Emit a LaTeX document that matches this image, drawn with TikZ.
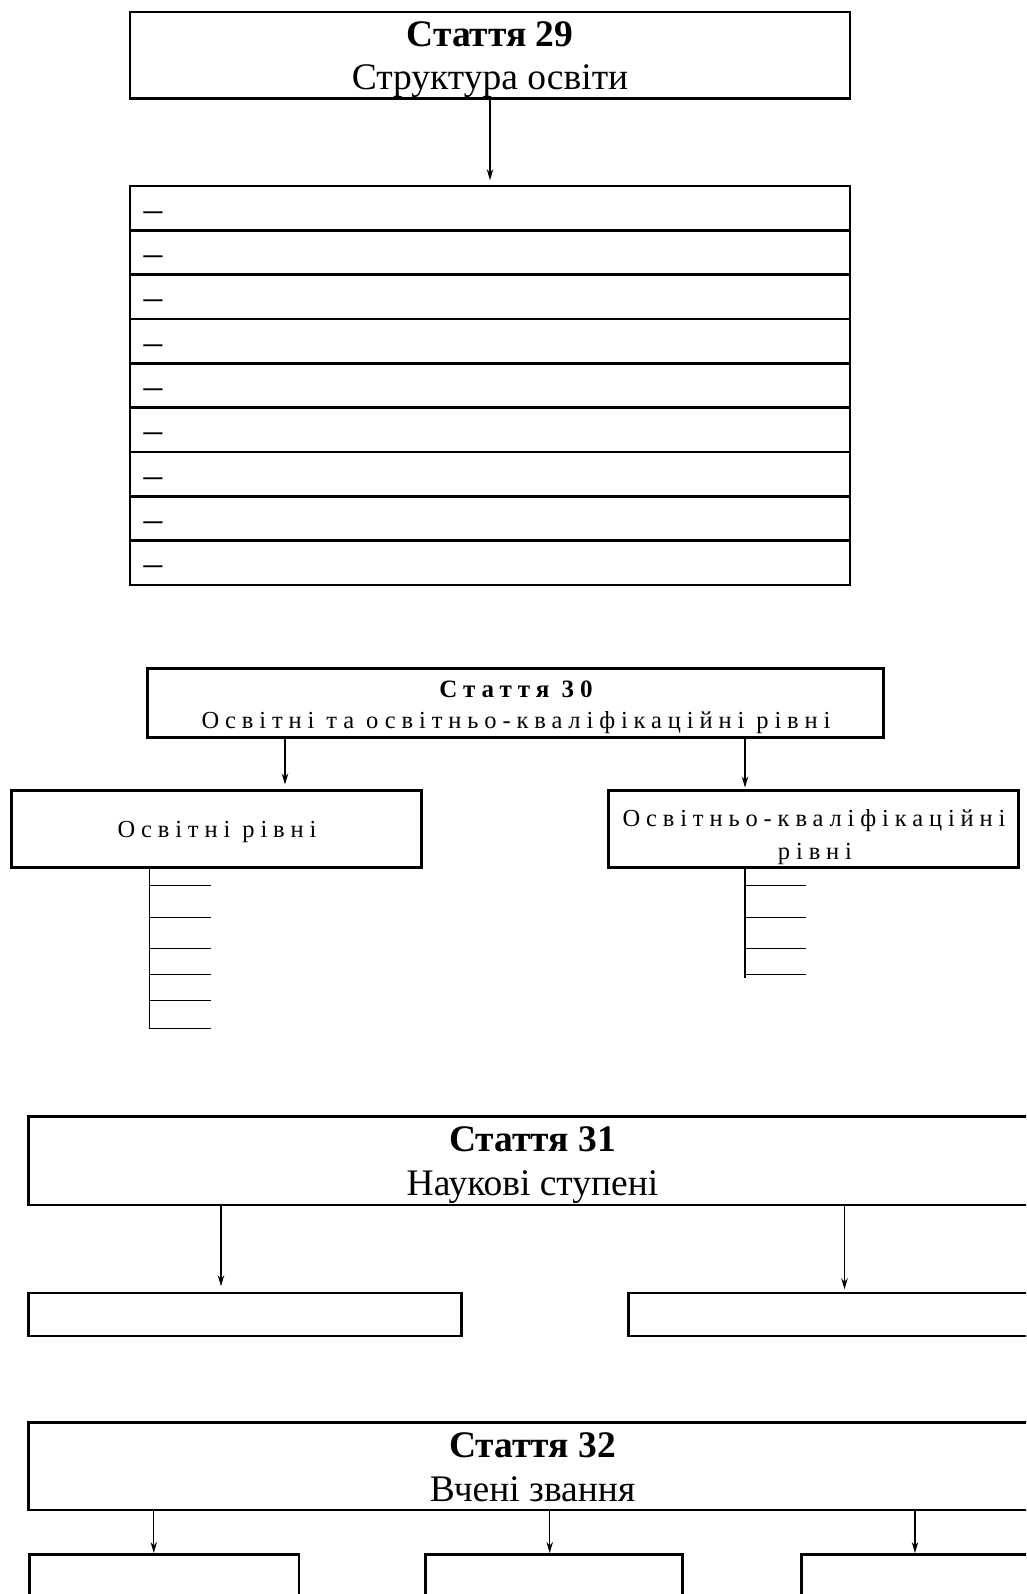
\documentclass[tikz,border=0pt]{standalone}
\usepackage{fontspec}
\setmainfont{Liberation Serif}
\newfontfamily\spacedfont[LetterSpace=24]{Liberation Serif}
\usetikzlibrary{arrows.meta,calc}

\tikzset{
  frame/.style={draw, line width=2.6pt, inner sep=0pt},
  thickframe/.style={draw, line width=3pt, inner sep=0pt},
  arr/.style={-{Stealth[length=11pt,width=6.5pt]}, line width=1.2pt},
  comb/.style={line width=1.5pt},
  head/.style={font=\fontsize{37.5}{40}\selectfont, inner sep=0pt},
  spacedhead/.style={font=\spacedfont\bfseries\fontsize{25}{28}\selectfont, inner sep=0pt},
  spacedtext/.style={font=\spacedfont\fontsize{24.5}{28}\selectfont, inner sep=0pt},
}

\begin{document}
\begin{tikzpicture}[x=1pt,y=-1pt]
\useasboundingbox (0,0) rectangle (1026,1594);
\clip (0,0) rectangle (1026,1594);
\fill[white] (0,0) rectangle (1026,1594);

% ---- Article 29: structure of education ----
\node[frame, minimum width=720pt, minimum height=86.5pt] (b29) at (490,55.25) {};
\node[head, anchor=base] (b29t) at (490,46.7) {\bfseries Стаття 29};
\node[head, anchor=base] (b29s) at (490,90) {Структура освіти};

\foreach \i in {0,...,8} {
  \node[frame, minimum width=720pt, minimum height=44.33pt] (row\i) at (490,{208.17+44.33*\i}) {};
  \node[head, anchor=base west] (dash\i) at (143.5,{221.3+44.33*\i}) {–};
}
\draw[arr, shorten >=4.5pt] (b29.south) -- (row0.north);

% ---- Article 30: educational levels ----
\node[thickframe, minimum width=736pt, minimum height=69pt] (b30) at (515,702.5) {};
\node[spacedhead, anchor=base] (b30t) at (516,697) {Стаття 30};
\node[spacedtext, anchor=base] (b30s) at (516,728) {Освітні та освітньо-кваліфікаційні рівні};

\node[thickframe, minimum width=410pt, minimum height=77pt] (lv1) at (216,828.5) {};
\node[spacedtext, anchor=base] (lv1t) at (217,837) {Освітні рівні};
\node[thickframe, minimum width=410pt, minimum height=77pt] (lv2) at (813,828.5) {};
\node[spacedtext, anchor=base] (lv2t) at (814,826.7) {Освітньо-кваліфікаційні};
\node[spacedtext, anchor=base] (lv2u) at (815,859.5) {рівні};

\coordinate (a30l) at (285,0);
\coordinate (a30r) at (745,0);
\draw[arr, shorten >=4pt] (b30.south -| a30l) -- (lv1.north -| a30l);
\draw[arr, shorten >=1pt] (b30.south -| a30r) -- (lv2.north -| a30r);

% level combs
\coordinate (cl) at (149.3,1028.5);
\draw[comb] (lv1.south -| cl) -- (cl);
\foreach \y in {885.7,917.3,948.3,974.3,1000.7,1028.3}
  \draw[comb] (149.3,\y) -- (210.7,\y);
\coordinate (cr) at (744.8,977.7);
\draw[comb] (lv2.south -| cr) -- (cr);
\foreach \y in {885.7,917.3,948.3,974.3}
  \draw[comb] (744.8,\y) -- (806.3,\y);

% ---- Article 31: scientific degrees ----
\node[frame, minimum width=1008pt, minimum height=88.3pt] (b31) at (532.5,1160.85) {};
\node[head, anchor=base] (b31t) at (532.5,1151.5) {\bfseries Стаття 31};
\node[head, anchor=base] (b31s) at (532.5,1195) {Наукові ступені};

\node[frame, minimum width=433pt, minimum height=43pt] (s1) at (245,1314.5) {};
\node[frame, minimum width=433pt, minimum height=43pt] (s2) at (844.7,1314.5) {};
\coordinate (a31l) at (221,0);
\coordinate (a31r) at (844.5,0);
\draw[arr, shorten >=5.5pt] (b31.south -| a31l) -- (s1.north -| a31l);
\draw[arr, shorten >=2.5pt] (b31.south -| a31r) -- (s2.north -| a31r);

% ---- Article 32: academic titles ----
\node[frame, minimum width=1008pt, minimum height=87.4pt] (b32) at (532.5,1466.4) {};
\node[head, anchor=base] (b32t) at (532.5,1457.4) {\bfseries Стаття 32};
\node[head, anchor=base] (b32s) at (532.5,1501) {Вчені звання};

\node[frame, minimum width=269.5pt, minimum height=85.7pt] (z1) at (164.25,1597.15) {};
\node[frame, minimum width=257.2pt, minimum height=85.7pt] (z2) at (554,1597.15) {};
\node[frame, minimum width=258.3pt, minimum height=85.7pt] (z3) at (930.85,1597.15) {};
\coordinate (a32a) at (153.8,0);
\coordinate (a32b) at (549.7,0);
\coordinate (a32c) at (915,0);
\draw[arr] (b32.south -| a32a) -- (z1.north -| a32a);
\draw[arr] (b32.south -| a32b) -- (z2.north -| a32b);
\draw[arr] (b32.south -| a32c) -- (z3.north -| a32c);
\end{tikzpicture}
\end{document}
